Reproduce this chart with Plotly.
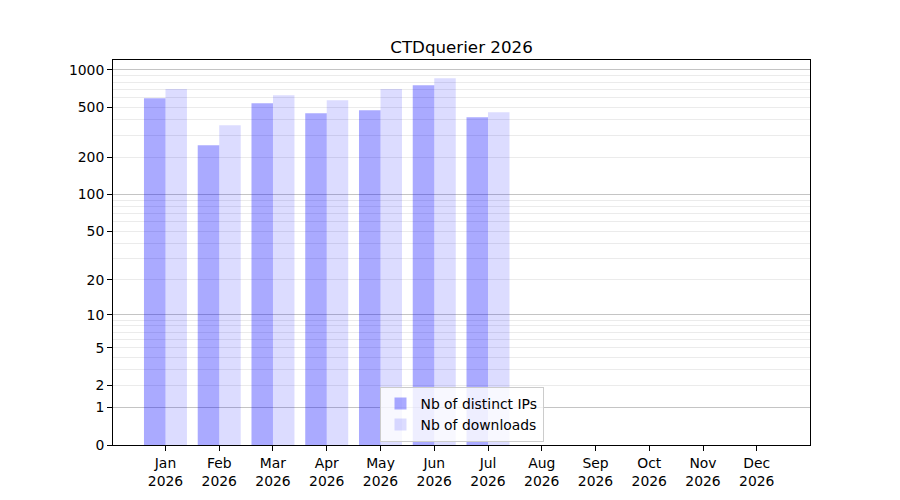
import plotly.graph_objects as go

months = ["Jan", "Feb", "Mar", "Apr", "May", "Jun", "Jul", "Aug", "Sep", "Oct", "Nov", "Dec"]
year = "2026"
data_months = ["Jan", "Feb", "Mar", "Apr", "May", "Jun", "Jul"]
distinct_ips = [594, 249, 541, 450, 476, 755, 418]
downloads = [705, 361, 628, 573, 705, 859, 458]

y_labels = [0, 1, 2, 5, 10, 20, 50, 100, 200, 500, 1000]
major_lines = [1, 10, 100, 1000]
minor_lines = [3, 4, 6, 7, 8, 9, 30, 40, 60, 70, 80, 90, 300, 400, 600, 700, 800, 900]

# symlog-like scale: log10(v + 1)
def sh(vals):
    return [v + 1 for v in vals]

font = "DejaVu Sans"
fig = go.Figure()
fig.add_trace(go.Bar(x=data_months, y=sh(distinct_ips), name="Nb of distinct IPs",
                     marker=dict(color="rgba(0,0,255,0.333)", line=dict(width=0))))
fig.add_trace(go.Bar(x=data_months, y=sh(downloads), name="Nb of downloads",
                     marker=dict(color="rgba(0,0,255,0.137)", line=dict(width=0))))

yrange = [0, 3.08]
fig.update_layout(
    width=892, height=492,
    margin=dict(l=105, r=90, t=52, b=55, autoexpand=False),
    plot_bgcolor="white", paper_bgcolor="white",
    font=dict(family=font, size=13.9, color="black"),
    barmode="group", bargap=0.2, bargroupgap=0,
    title=dict(text="CTDquerier 2026", x=0.5, xref="paper", xanchor="center",
               y=1, yref="paper", yanchor="bottom", pad=dict(b=7),
               font=dict(family=font, size=16.7, color="black")),
    xaxis=dict(type="category", categoryorder="array", categoryarray=months,
               tickmode="array", tickvals=months,
               ticktext=[m + "<br>" + year for m in months],
               range=[-0.976, 11.99], showgrid=False,
               showline=True, mirror=True, linecolor="black", linewidth=1.1,
               ticks="outside", ticklen=4.9, tickwidth=1.1, tickcolor="black",
               zeroline=False),
    yaxis=dict(type="log", range=yrange,
               tickmode="array", tickvals=sh(y_labels), ticktext=[str(v) for v in y_labels],
               showgrid=True, gridcolor="#ebebeb", gridwidth=1,
               minor=dict(tickmode="array", tickvals=sh(minor_lines), showgrid=True,
                          gridcolor="#ebebeb", gridwidth=1, ticks=""),
               showline=True, mirror=True, linecolor="black", linewidth=1.1,
               ticks="outside", ticklen=4.9, tickwidth=1.1, tickcolor="black",
               zeroline=False),
    yaxis2=dict(type="log", range=yrange, overlaying="y", side="left",
                tickmode="array", tickvals=sh(major_lines), showticklabels=False,
                ticks="", showgrid=True, gridcolor="#c4c4c4", gridwidth=1,
                showline=False, zeroline=False),
    legend=dict(x=0.5, xanchor="center", y=0.008, yanchor="bottom",
                bgcolor="rgba(255,255,255,0.8)", bordercolor="#cccccc", borderwidth=1,
                font=dict(family=font, size=13.9, color="black"),
                tracegroupgap=2),
    showlegend=True,
)
fig.add_trace(go.Scatter(x=[None], y=[None], yaxis="y2", showlegend=False, hoverinfo="skip"))
fig.write_html("out.html")
